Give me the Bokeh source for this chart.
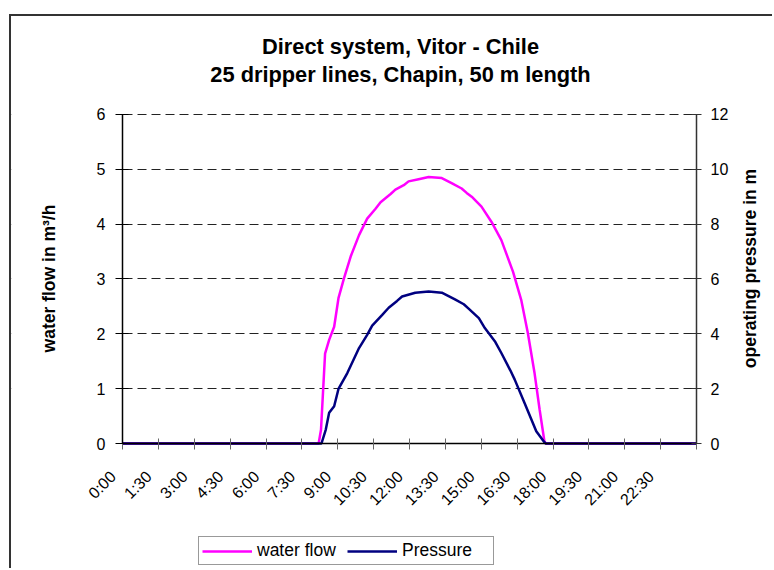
from bokeh.plotting import figure
from bokeh.models import (Range1d, LinearAxis, FixedTicker, Label, Legend,
                          LegendItem, BoxAnnotation)
from bokeh.embed import file_html
from bokeh.resources import INLINE
import math

# Time of day in hours for each series
flow_hours = [0, 8.2, 8.30, 8.47, 8.64, 8.85, 9.03, 9.26, 9.54, 9.89, 10.23,
              10.58, 10.79, 11.21, 11.41, 11.76, 11.96, 12.38, 12.80, 13.35,
              13.76, 14.18, 14.39, 14.60, 15.01, 15.43, 15.84, 16.33, 16.67,
              16.95, 17.23, 17.44, 17.64, 17.70, 24]
# Water flow in m3/h
water_flow = [0, 0, 0.25, 1.64, 1.89, 2.13, 2.65, 3.01, 3.41, 3.80, 4.10,
              4.28, 4.40, 4.55, 4.63, 4.71, 4.78, 4.82, 4.86, 4.84,
              4.75, 4.65, 4.57, 4.50, 4.32, 4.04, 3.71, 3.13, 2.62,
              2.01, 1.28, 0.62, 0.04, 0, 0]

pressure_hours = [0, 8.32, 8.50, 8.64, 8.85, 9.03, 9.40, 9.89, 10.23, 10.44,
                  10.86, 11.13, 11.48, 11.69, 12.24, 12.80, 13.35, 13.90,
                  14.27, 14.46, 14.90, 15.15, 15.59, 15.84, 16.22, 16.40,
                  16.81, 17.30, 17.64, 17.70, 24]
# Operating pressure in m
pressure = [0, 0, 0.51, 1.12, 1.36, 1.99, 2.57, 3.48, 3.96, 4.30,
            4.69, 4.95, 5.20, 5.36, 5.50, 5.54, 5.50, 5.26,
            5.08, 4.93, 4.57, 4.21, 3.70, 3.30, 2.66, 2.33,
            1.48, 0.45, 0.05, 0, 0]

tick_hours = [i * 1.5 for i in range(17)]
tick_labels = ["0:00", "1:30", "3:00", "4:30", "6:00", "7:30", "9:00",
               "10:30", "12:00", "13:30", "15:00", "16:30", "18:00",
               "19:30", "21:00", "22:30", ""]
flow_ticks = [0, 1, 2, 3, 4, 5, 6]
pressure_ticks = [0, 2, 4, 6, 8, 10, 12]

title_lines = ["Direct system, Vitor - Chile",
               "25 dripper lines, Chapin, 50 m length"]

FONT = "Liberation Sans"
NBSP3 = "\u00a0\u00a0\u00a0"   # trailing pad nudges the slanted labels left

# The plot area covers the whole canvas so that heading, axis titles and
# legend all sit inside it; the axes are pinned and bounded to the data span.
X_LO, X_HI = -4.641, 27.261
FLOW_LO, FLOW_HI = -2.316, 7.787

p = figure(width=763, height=554, output_backend="svg", toolbar_location=None,
           title=None,
           x_range=Range1d(X_LO, X_HI), y_range=Range1d(FLOW_LO, FLOW_HI),
           min_border=0,
           background_fill_color="white", border_fill_color="white",
           styles={"margin-left": "9px", "margin-top": "14px",
                   "border-left": "2px solid #333333",
                   "border-top": "2px solid #333333"})
p.outline_line_color = None
p.extra_y_ranges = {"pressure": Range1d(2 * FLOW_LO, 2 * FLOW_HI)}

# Dashed horizontal gridlines, masked outside the 0-24 h span
p.xgrid.grid_line_color = None
p.ygrid.ticker = FixedTicker(ticks=flow_ticks[1:])
p.ygrid.grid_line_color = "#222222"
p.ygrid.grid_line_dash = "9 5"
p.ygrid.grid_line_width = 1
p.add_layout(BoxAnnotation(right=0, fill_color="white", fill_alpha=1,
                           line_color=None, level="underlay"))
p.add_layout(BoxAnnotation(left=24, fill_color="white", fill_alpha=1,
                           line_color=None, level="underlay"))

# Heading, centred over the chart
for i, line in enumerate(title_lines):
    p.add_layout(Label(x=389, y=524 - 28 * i, x_units="screen", y_units="screen",
                       text=line, text_align="center", text_baseline="alphabetic",
                       text_font=FONT, text_font_size="21.8px",
                       text_font_style="bold", text_color="black"))

# Curves
r_flow = p.line(flow_hours, water_flow, line_color="#FF00FF", line_width=2.5)
r_press = p.line(pressure_hours, pressure, line_color="#000080",
                 line_width=2.5, y_range_name="pressure")

# Time axis pinned at zero flow
xa = p.xaxis[0]
xa.fixed_location = 0
xa.bounds = (0, 24)
xa.ticker = FixedTicker(ticks=tick_hours)
xa.major_label_overrides = {
    (int(h) if h == int(h) else h): (lab + NBSP3 if lab else lab)
    for h, lab in zip(tick_hours, tick_labels)
}
xa.major_label_orientation = math.pi / 4
xa.major_label_text_font = FONT
xa.major_label_text_font_size = "16px"
xa.major_label_text_color = "black"
xa.major_label_standoff = 15
xa.axis_line_color = "black"
xa.axis_line_width = 1.5
xa.major_tick_line_color = "#666666"
xa.major_tick_in = 5
xa.major_tick_out = 6
xa.minor_tick_line_color = None

# Left flow axis pinned at 0:00
ya = p.yaxis[0]
ya.fixed_location = 0
ya.bounds = (0, 6)
ya.ticker = FixedTicker(ticks=flow_ticks)
ya.major_label_text_font = FONT
ya.major_label_text_font_size = "16px"
ya.major_label_text_color = "black"
ya.major_label_standoff = 10
ya.axis_line_color = "black"
ya.axis_line_width = 1.5
ya.major_tick_line_color = "black"
ya.major_tick_in = 6
ya.major_tick_out = 7
ya.minor_tick_line_color = None

# Right pressure axis pinned at 24:00
ra = LinearAxis(y_range_name="pressure", bounds=(0, 12), fixed_location=24,
                ticker=FixedTicker(ticks=pressure_ticks))
ra.major_label_text_font = FONT
ra.major_label_text_font_size = "16px"
ra.major_label_text_color = "black"
ra.major_label_standoff = 9
ra.axis_line_color = "#333333"
ra.axis_line_width = 1.5
ra.major_tick_line_color = "#333333"
ra.major_tick_in = 5
ra.major_tick_out = 5
ra.minor_tick_line_color = None
p.add_layout(ra, "right")

# Axis titles, both reading upwards
for txt, sx, sy in [("water flow in m³/h", 37, 292),
                    ("operating pressure in m", 738, 302)]:
    p.add_layout(Label(x=sx, y=sy, x_units="screen", y_units="screen",
                       text=txt, angle=math.pi / 2, text_align="center",
                       text_baseline="middle", text_font=FONT,
                       text_font_size="17.5px", text_font_style="bold",
                       text_color="black"))

# Legend under the time axis
legend = Legend(items=[LegendItem(label="water flow", renderers=[r_flow]),
                       LegendItem(label="Pressure", renderers=[r_press])],
                orientation="horizontal", location=(187, 5),
                glyph_width=50, glyph_height=18, label_standoff=5,
                label_width=88, spacing=2, padding=3, margin=0,
                label_text_font=FONT, label_text_font_size="17.5px",
                label_text_color="black",
                border_line_color="#333333", border_line_width=1,
                background_fill_color="white", background_fill_alpha=1)
p.add_layout(legend, "center")

open("out.html", "w").write(file_html(p, INLINE))
